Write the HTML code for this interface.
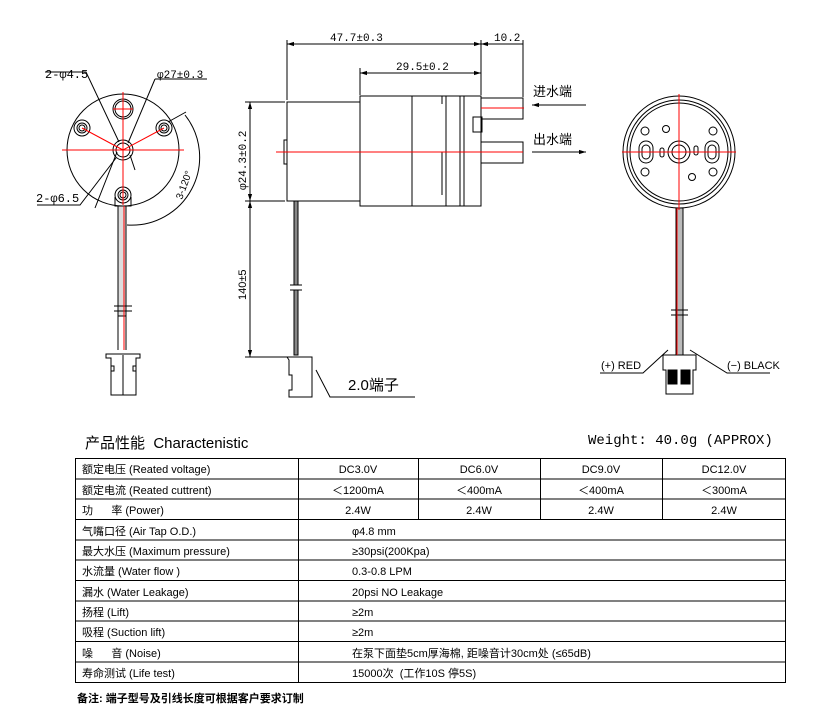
<!DOCTYPE html>
<html><head><meta charset="utf-8"><style>
body{margin:0;background:#fff;}
svg{display:block}
text{font-family:"Liberation Sans","Noto Sans CJK SC",sans-serif;fill:#000;white-space:pre}
.m{font-family:"Liberation Mono","Noto Sans CJK SC",monospace}
</style></head><body>
<svg width="824" height="720" viewBox="0 0 824 720" xmlns="http://www.w3.org/2000/svg" xml:space="preserve">
<defs>
<marker id="ar" viewBox="0 0 10 10" refX="10" refY="5" markerWidth="7" markerHeight="7" orient="auto-start-reverse"><path d="M0,2 L10,5 L0,8 z" fill="#000"/></marker>
</defs>
<g stroke="#000" fill="none" stroke-width="1">
<circle cx="123" cy="150" r="56"/>
<circle cx="123" cy="109" r="10"/><circle cx="123" cy="109" r="8"/>
<circle cx="123" cy="150" r="10"/><circle cx="123" cy="150" r="7"/>
<circle cx="82" cy="128" r="8"/><circle cx="82" cy="128" r="5"/><circle cx="82" cy="128" r="3"/>
<circle cx="164" cy="128" r="8"/><circle cx="164" cy="128" r="5"/><circle cx="164" cy="128" r="3"/>
<circle cx="123" cy="195" r="8"/><circle cx="123" cy="195" r="5"/><circle cx="123" cy="195" r="3"/>
<path d="M115,197 L115,206 L131,206 L131,197"/>
<path d="M45,72 L86,72 L119,142" /><path d="M155,79 L207,79"/><path d="M155,79 L128,143"/>
<path d="M37,205 L80,205 L116,158"/><path d="M95,208 L117,152"/><path d="M130,155 L135,170"/>
<path d="M168,122 L186,112"/>
<path d="M185,115 A68,68 0 0 1 127,225"/>
<rect x="118" y="206" width="8" height="110" fill="#ddd"/>
<path d="M114,306 L132,306 M114,311 L132,311"/>
<path d="M118,316 L118,350 M126,316 L126,350"/>
<path d="M106,354 L140,354 L140,358 L136,358 L136,395 L111,395 L111,358 L106,358 z"/>
<path d="M111,366 h3 v5 h-3 M136,366 h-3 v5 h3"/>
<path d="M123,355 L123,395"/>
</g>
<g stroke="#f00" stroke-width="1" fill="none">
<path d="M62,150 L184,150 M123,92 L123,205 M113,109 L133,109 M82,128 L123,150 L164,128"/>
<path d="M124,206 L124,350"/>
</g>
<text x="45" y="78" font-size="12" class="m">2-φ4.5</text>
<text x="157" y="78" font-size="11" class="m">φ27±0.3</text>
<text x="36" y="202" font-size="12" class="m">2-φ6.5</text>
<text x="0" y="0" font-size="10" transform="translate(182,200) rotate(-70)">3-120°</text>

<g stroke="#000" fill="none" stroke-width="1">
<rect x="287" y="102" width="73" height="99"/>
<rect x="360" y="96" width="121" height="110"/>
<path d="M412,96 V206 M446,96 V206 M460,96 V206 M464,96 V206 M442,96 V104 M442,152 V195"/>
<rect x="284" y="140" width="3" height="24"/>
<path d="M481,98 H523 V119 H481 M481,142 H523 V163 H481"/>
<rect x="473" y="117" width="9" height="15"/>
<path d="M287,44 H481" marker-start="url(#ar)" marker-end="url(#ar)"/>
<path d="M481,44 H523" marker-start="url(#ar)"/>
<path d="M360,73 H481" marker-start="url(#ar)" marker-end="url(#ar)"/>
<path d="M287,40 V100 M481,40 V95 M523,40 V97 M360,68 V95"/>
<path d="M250,102 V201" marker-start="url(#ar)" marker-end="url(#ar)"/>
<path d="M250,201 V357" marker-start="url(#ar)" marker-end="url(#ar)"/>
<path d="M245,102 H285 M245,201 H285 M245,357 H290"/>
<path d="M586,105 H532" marker-end="url(#ar)"/>
<path d="M532,152 H586" marker-end="url(#ar)"/>
<rect x="294" y="201" width="4" height="84" fill="#888"/>
<rect x="294" y="290" width="4" height="65" fill="#888"/>
<path d="M290,285 H302 M290,290 H302"/>
<path d="M287,357 H312 V397 H289 V390 H292 V375 H289 V360 z"/>
<path d="M316,370 L330,397 H415"/>
</g>
<path d="M276,152 H523 M481,108 H524" stroke="#f00"/>
<text x="330" y="41" font-size="11" class="m">47.7±0.3</text>
<text x="494" y="41" font-size="11" class="m">10.2</text>
<text x="396" y="70" font-size="11" class="m">29.5±0.2</text>
<text x="533" y="96" font-size="13">进水端</text>
<text x="533" y="144" font-size="13">出水端</text>
<text font-size="11" class="m" transform="translate(246,190) rotate(-90)">φ24.3±0.2</text>
<text font-size="11" transform="translate(246,300) rotate(-90)">140±5</text>
<text x="348" y="390" font-size="15">2.0端子</text>

<g stroke="#000" fill="none" stroke-width="1">
<circle cx="679" cy="152" r="56"/><circle cx="679" cy="152" r="52"/><circle cx="679" cy="152" r="49"/>
<circle cx="679" cy="152" r="11"/><circle cx="679" cy="152" r="7"/>
<rect x="639" y="141" width="14" height="22" rx="7"/><rect x="642" y="145" width="8" height="14" rx="4"/>
<rect x="705" y="141" width="14" height="22" rx="7"/><rect x="708" y="145" width="8" height="14" rx="4"/>
<circle cx="645" cy="131" r="4"/><circle cx="645" cy="172" r="4"/><circle cx="713" cy="131" r="4"/><circle cx="713" cy="172" r="4"/>
<circle cx="666" cy="129" r="3.5"/><circle cx="692" cy="177" r="3.5"/>
<rect x="660" y="148" width="4" height="9" rx="2"/><rect x="694" y="146" width="4" height="9" rx="2"/>
<rect x="676" y="208" width="7" height="147" fill="#bbb"/>
<path d="M671,310 H688 M671,315 H688"/>
<path d="M663,355 H696 V370 H693 V394 H666 V370 H663 z"/>
<rect x="668" y="370" width="9" height="14" fill="#000"/><rect x="681" y="370" width="9" height="14" fill="#000"/>
<path d="M600,373 H643 L668,350 M770,373 H727 L690,350"/>
</g>
<path d="M622,152 H736 M679,94 V210 M677,208 V355" stroke="#f00" fill="none"/>
<text x="601" y="369" font-size="11">(+) RED</text>
<text x="727" y="369" font-size="11">(−) BLACK</text>

<text x="85" y="448" font-size="15">产品性能  Charactenistic</text>
<text x="588" y="444" font-size="14" class="m">Weight: 40.0g (APPROX)</text>
<g stroke="#000" stroke-width="1" fill="none">
<rect x="75.5" y="458.5" width="710" height="224"/>
<path d="M75,479 H786 M75,499 H786 M75,519.5 H786 M75,540 H786 M75,560 H786 M75,580.5 H786 M75,601 H786 M75,621 H786 M75,641.5 H786 M75,662 H786"/>
<path d="M298.5,458 V683 M418.5,458 V519 M540.5,458 V519 M662.5,458 V519"/>
</g>
<g font-size="11">
<text x="82" y="473">额定电压 (Reated voltage)</text>
<text x="82" y="494">额定电流 (Reated cuttrent)</text>
<text x="82" y="514">功      率 (Power)</text>
<text x="82" y="535">气嘴口径 (Air Tap O.D.)</text>
<text x="82" y="555">最大水压 (Maximum pressure)</text>
<text x="82" y="575">水流量 (Water flow )</text>
<text x="82" y="596">漏水 (Water Leakage)</text>
<text x="82" y="616">扬程 (Lift)</text>
<text x="82" y="636">吸程 (Suction lift)</text>
<text x="82" y="657">噪      音 (Noise)</text>
<text x="82" y="677">寿命测试 (Life test)</text>
<g text-anchor="middle">
<text x="358" y="473">DC3.0V</text><text x="479" y="473">DC6.0V</text><text x="601" y="473">DC9.0V</text><text x="724" y="473">DC12.0V</text>
<text x="358" y="494">＜1200mA</text><text x="479" y="494">＜400mA</text><text x="601" y="494">＜400mA</text><text x="724" y="494">＜300mA</text>
<text x="358" y="514">2.4W</text><text x="479" y="514">2.4W</text><text x="601" y="514">2.4W</text><text x="724" y="514">2.4W</text>
</g>
<text x="352" y="535">φ4.8 mm</text>
<text x="352" y="555">≥30psi(200Kpa)</text>
<text x="352" y="575">0.3-0.8 LPM</text>
<text x="352" y="596">20psi NO Leakage</text>
<text x="352" y="616">≥2m</text>
<text x="352" y="636">≥2m</text>
<text x="352" y="657">在泵下面垫5cm厚海棉, 距噪音计30cm处 (≤65dB)</text>
<text x="352" y="677">15000次  (工作10S 停5S)</text>
</g>
<text x="77" y="702" font-size="11" font-weight="bold">备注: 端子型号及引线长度可根据客户要求订制</text>
</svg>
</body></html>
